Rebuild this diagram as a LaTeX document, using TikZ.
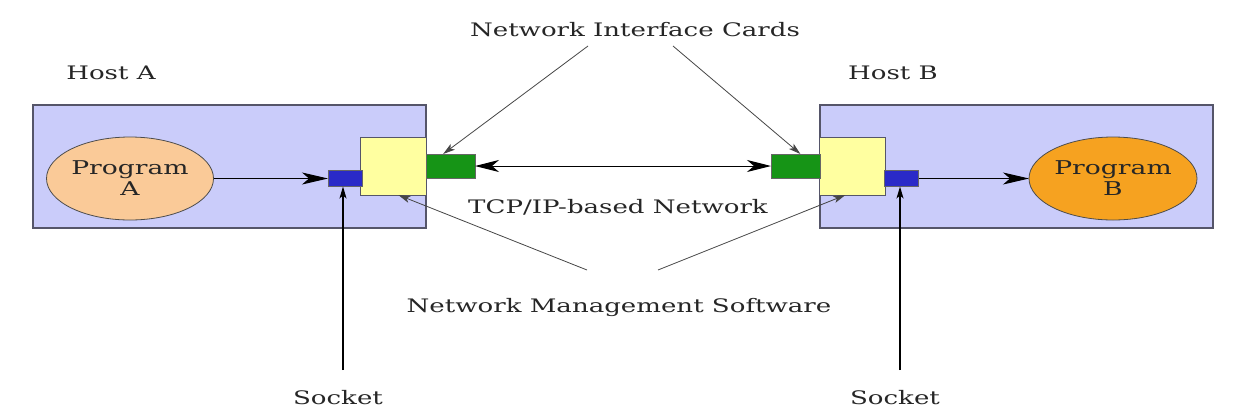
\documentclass[tikz,border=0pt]{standalone}
\usepackage{fontspec}
\setmainfont{DejaVu Serif}[FakeStretch=1.4]
\usetikzlibrary{arrows.meta,calc,shapes.geometric}
\definecolor{hostfill}{RGB}{202,204,250}
\definecolor{hostedge}{RGB}{85,85,105}
\definecolor{peach}{RGB}{250,202,152}
\definecolor{progorange}{RGB}{246,162,32}
\definecolor{stackyellow}{RGB}{255,255,160}
\definecolor{nicgreen}{RGB}{22,148,22}
\definecolor{sockblue}{RGB}{42,42,200}
\definecolor{leader}{RGB}{70,70,70}
\tikzset{
  host/.style={draw=hostedge, fill=hostfill, line width=1.2pt, minimum width=393pt, minimum height=123pt, inner sep=0pt, outer sep=0pt},
  prog/.style={draw=black!70, ellipse, line width=0.8pt, minimum width=167pt, minimum height=83pt, inner sep=0pt, outer sep=0pt, align=center, font=\fontsize{19}{21}\selectfont, text=black!85},
  stack/.style={draw=hostedge, fill=stackyellow, line width=0.9pt, minimum width=66pt, minimum height=58pt, inner sep=0pt, outer sep=0pt},
  nic/.style={draw=black!60, fill=nicgreen, line width=0.6pt, minimum width=49pt, minimum height=24pt, inner sep=0pt, outer sep=0pt},
  sock/.style={draw=black!60, fill=sockblue, line width=0.6pt, minimum width=34pt, minimum height=16pt, inner sep=0pt, outer sep=0pt},
  lbl/.style={font=\fontsize{18.6}{21}\selectfont, text=black!85, inner sep=1pt},
  flow/.style={line width=1pt, -{Stealth[length=26pt,width=12pt,inset=7pt]}},
  link/.style={line width=1pt, {Stealth[length=24pt,width=12pt,inset=7pt]}-{Stealth[length=24pt,width=12pt,inset=7pt]}},
  pointer/.style={draw=leader, line width=0.8pt, -{Stealth[length=12pt,width=7pt,inset=3pt]}},
  sockptr/.style={draw=black, line width=1.3pt, -{Stealth[length=12pt,width=7pt,inset=3pt]}}
}
\begin{document}
\begin{tikzpicture}[x=1pt,y=-1pt]
\useasboundingbox (0,0) rectangle (1238,413);
\fill[white] (0,0) rectangle (1238,413);

% hosts
\node[host] (hostA) at (229.5,166.5) {};
\node[host] (hostB) at (1016.5,166.5) {};

% protocol stacks, NICs and sockets
\node[stack] (yA) at (393,166) {};
\node[stack] (yB) at (852,166) {};
\node[nic] (gA) at (450.5,166) {};
\node[nic] (gB) at (795.5,166) {};
\node[sock] (bA) at (345,178.5) {};
\node[sock] (bB) at (901.5,178.5) {};

% programs
\node[prog, fill=peach] (pA) at (130,178.5) {Program\\A};
\node[prog, fill=progorange, minimum width=168pt] (pB) at (1113,178.5) {Program\\B};

% labels
\node[lbl] (hA) at (111,73) {Host A};
\node[lbl] (hB) at (893,73) {Host B};
\node[lbl] (nicl) at (635,30) {Network Interface Cards};
\node[lbl] (tcp) at (618,207) {TCP/IP-based Network};
\node[lbl] (nms) at (619,307) {Network Management Software};
\node[lbl] (sA) at (338,398) {Socket};
\node[lbl] (sB) at (895,398) {Socket};

% free ends of the leader lines
\coordinate (nicL) at (588,46);
\coordinate (nicR) at (673,46);
\coordinate (nmsL) at (587,270);
\coordinate (nmsR) at (658,270);
\coordinate (sockL) at (343,370);
\coordinate (sockR) at (900,370);

% data flow
\draw[flow] (pA.east) -- (bA.west);
\draw[flow] (bB.east) -- (pB.west);
\draw[link] (gA.east) -- (gB.west);

% leaders
\draw[pointer] (nicL) -- ($(gA.north west)!0.35!(gA.north east)$);
\draw[pointer] (nicR) -- ($(gB.north west)!0.6!(gB.north east)$);
\draw[pointer] (nmsL) -- ($(yA.south west)!0.58!(yA.south east)$);
\draw[pointer] (nmsR) -- ($(yB.south west)!0.4!(yB.south east)$);
\draw[sockptr] (sockL) -- (sockL |- bA.south);
\draw[sockptr] (sockR) -- (sockR |- bB.south);
\end{tikzpicture}
\end{document}
